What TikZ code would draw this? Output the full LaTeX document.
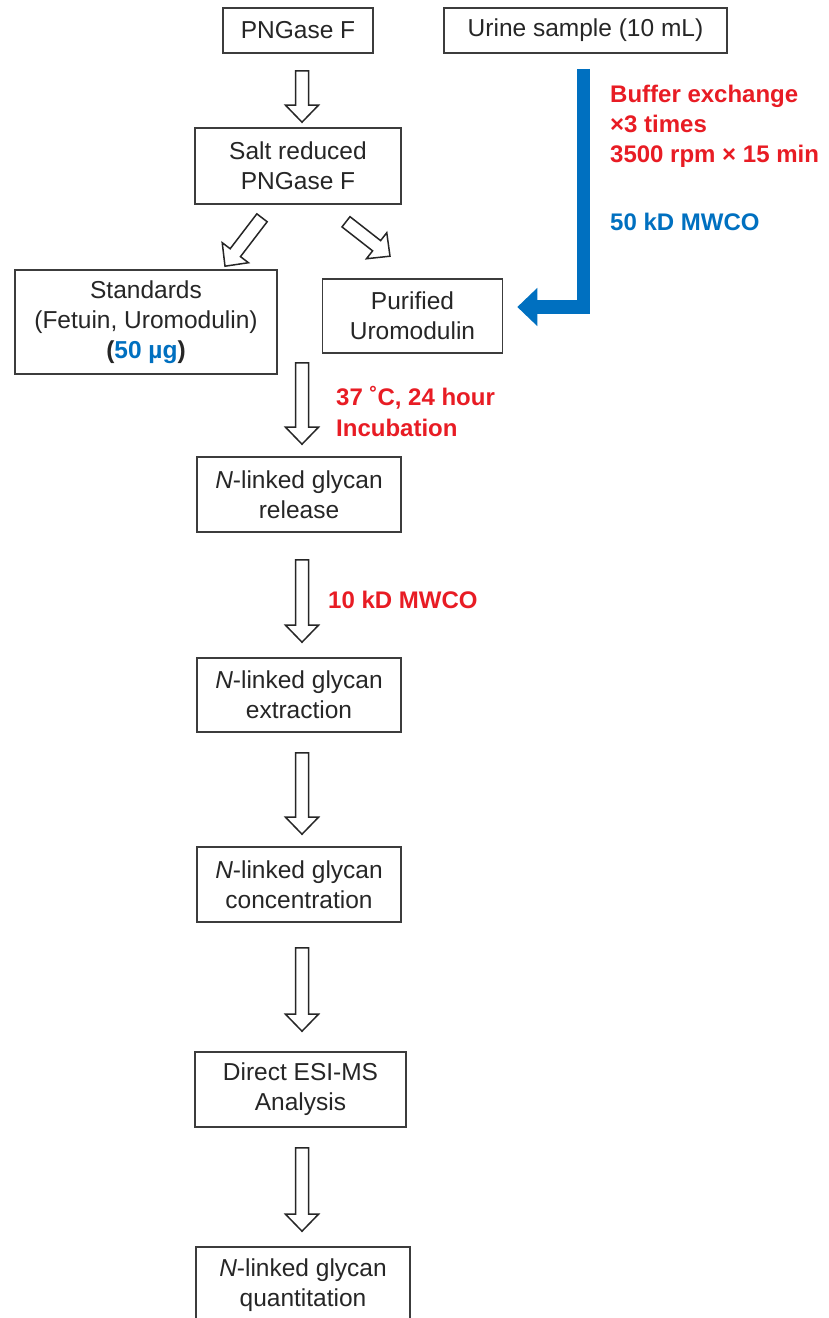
\documentclass[tikz,border=0pt]{standalone}
\usepackage{fontspec}
\setmainfont{Liberation Sans}
\usetikzlibrary{calc,arrows.meta}
\definecolor{myred}{RGB}{232,28,36}
\definecolor{myblue}{RGB}{0,112,192}
\definecolor{boxline}{RGB}{60,60,60}
\tikzset{
  box/.style={draw=boxline, line width=1.6bp, fill=white, align=center, inner sep=0pt,
    font=\fontsize{24.5bp}{30bp}\selectfont, text=black!85},
  lab/.style={anchor=base west, inner sep=0pt, font=\fontsize{24bp}{30bp}\selectfont\bfseries},
  hollowarrow/.style={draw=black!85, line width=1.5bp, fill=white, line join=miter},
  bluearrow/.style={draw=myblue, line width=13.5bp, -{Triangle[length=20bp,width=37bp]}}
}
\newcommand\harrow[2]{%
  \coordinate (hA) at #1;
  \coordinate (hB) at #2;
  \coordinate (hC) at ($(hB)!17bp!(hA)$);
  \draw[hollowarrow] ($(hA)!6.5bp!90:(hB)$) -- ($(hC)!6.5bp!90:(hB)$) -- ($(hC)!16.5bp!90:(hB)$)
    -- (hB) -- ($(hC)!16.5bp!-90:(hB)$) -- ($(hC)!6.5bp!-90:(hB)$) -- ($(hA)!6.5bp!-90:(hB)$) -- cycle;
}
\begin{document}
\begin{tikzpicture}[x=1bp, y=-1bp]
\useasboundingbox (0,0) rectangle (828,1318);
\clip (0,0) rectangle (828,1318);
\fill[white] (0,0) rectangle (828,1318);

% boxes
\node[box, minimum width=150bp, minimum height=45bp] (pn) at (298,30.5) {PNGase F};
\node[box, minimum width=283bp, minimum height=45bp] (urine) at (585.5,30.5) {Urine sample (10 mL)};
\node[box, minimum width=206bp, minimum height=76bp] (salt) at (298,166) {Salt reduced\\PNGase F};
\node[box, minimum width=262bp, minimum height=104bp] (std) at (146,322) {Standards\\(Fetuin, Uromodulin)\\\textbf{(\textcolor{myblue}{50 µg})}};
\node[box, minimum width=180bp, minimum height=74bp] (pur) at (412.5,316) {Purified\\Uromodulin};
\node[box, minimum width=204bp, minimum height=75bp] (rel) at (299,494.5) {\textit{N}-linked glycan\\release};
\node[box, minimum width=204bp, minimum height=74bp] (ext) at (299,695) {\textit{N}-linked glycan\\extraction};
\node[box, minimum width=204bp, minimum height=75bp] (conc) at (299,884.5) {\textit{N}-linked glycan\\concentration};
\node[box, minimum width=211bp, minimum height=75bp] (esi) at (300.5,1089.5) {Direct ESI-MS\\Analysis};
\node[box, minimum width=214bp, minimum height=76bp] (quant) at (303,1285) {\textit{N}-linked glycan\\quantitation};

% hollow arrows
\harrow{($(pn.south)+(4,17)$)}{($(hA |- salt.north)+(0,-5)$)}
\harrow{($(salt.south)+(-36,13)$)}{($(std.north)+(79,-3)$)}
\harrow{($(salt.south)+(48,17)$)}{($(pur.north)+(-22.5,-22)$)}
\harrow{($(pur.south -| rel.north)+(3,9)$)}{($(hA |- rel.north)+(0,-12)$)}
\harrow{($(rel.south)+(3,27)$)}{($(hA |- ext.north)+(0,-15)$)}
\harrow{($(ext.south)+(3,20)$)}{($(hA |- conc.north)+(0,-12)$)}
\harrow{($(conc.south)+(3,25)$)}{($(hA |- esi.north)+(0,-20)$)}
\harrow{($(esi.south)+(1.5,20)$)}{($(hA |- quant.north)+(0,-15)$)}

% blue arrow
\coordinate (bs) at ($(urine.south)+(-2,15)$);
\coordinate (bt) at ($(pur.east)+(14,-9)$);
\draw[bluearrow] (bs) |- (bt);

% labels
\node[lab, text=myred] (b1) at (610,103) {Buffer exchange};
\node[lab, text=myred] (b2) at (610,133) {×3 times};
\node[lab, text=myred] (b3) at (610,163) {3500 rpm × 15 min};
\node[lab, text=myblue] (b4) at (610,231) {50 kD MWCO};
\node[lab, text=myred] (i1) at (336,405) {37 ˚C, 24 hour};
\node[lab, text=myred] (i2) at (336,436) {Incubation};
\node[lab, text=myred] (m1) at (328,608) {10 kD MWCO};
\end{tikzpicture}
\end{document}
